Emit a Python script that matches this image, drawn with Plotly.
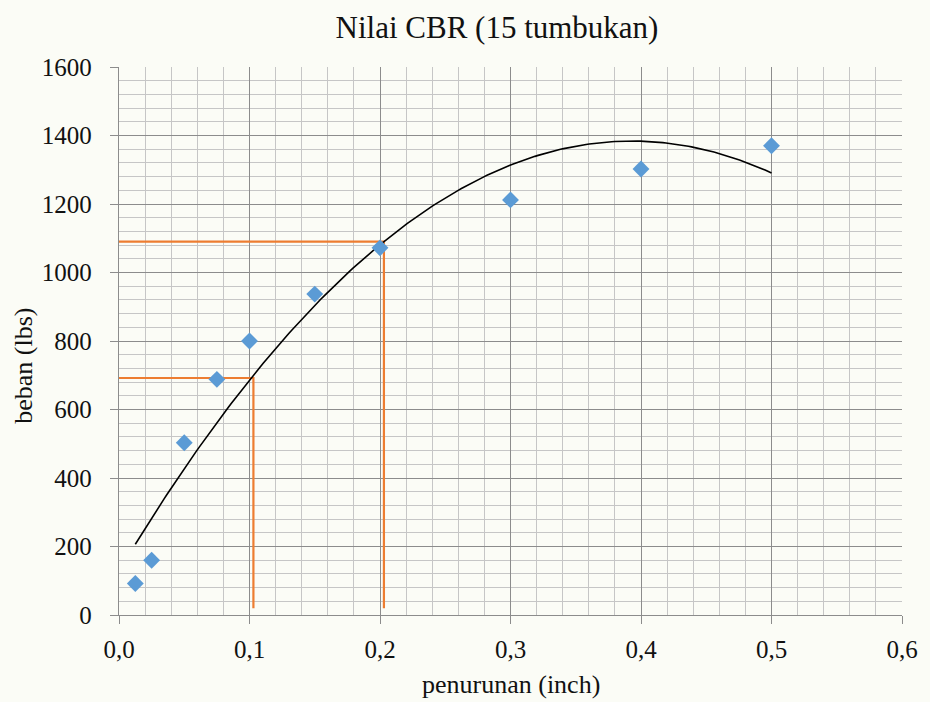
import numpy as np
import plotly.graph_objects as go

# Penetration (inch) and load (lbs) readings
penurunan = [0.0125, 0.025, 0.05, 0.075, 0.1, 0.15, 0.2, 0.3, 0.4, 0.5]
beban = [92, 160, 503, 688, 800, 937, 1072, 1212, 1302, 1370]

# Guide lines at 0.1" and 0.2"
guide_1_x = [0.0, 0.103, 0.103]
guide_1_y = [692, 692, 20]
guide_2_x = [0.0, 0.203, 0.203]
guide_2_y = [1090, 1090, 20]

x_ticks = [0.0, 0.1, 0.2, 0.3, 0.4, 0.5, 0.6]
x_tick_text = ["0,0", "0,1", "0,2", "0,3", "0,4", "0,5", "0,6"]
y_ticks = [0, 200, 400, 600, 800, 1000, 1200, 1400, 1600]
y_tick_text = [str(v) for v in y_ticks]

# Second-order polynomial trend line
coef = np.polyfit(penurunan, beban, 2)
x_fit = np.linspace(min(penurunan), max(penurunan), 200)
y_fit = np.polyval(coef, x_fit)

font_family = "Liberation Serif, Times New Roman, serif"
text_color = "#111111"
bg = "#fbfcf6"
major_grid = "#8c8c8c"
minor_grid = "#c6c6c6"

fig = go.Figure()
fig.add_trace(go.Scatter(x=guide_1_x, y=guide_1_y, mode="lines",
                         line=dict(color="#ed7d31", width=2.2), hoverinfo="skip"))
fig.add_trace(go.Scatter(x=guide_2_x, y=guide_2_y, mode="lines",
                         line=dict(color="#ed7d31", width=2.2), hoverinfo="skip"))
fig.add_trace(go.Scatter(x=x_fit, y=y_fit, mode="lines",
                         line=dict(color="black", width=1.6), hoverinfo="skip"))
fig.add_trace(go.Scatter(x=penurunan, y=beban, mode="markers",
                         marker=dict(symbol="diamond", size=13, color="#5b9bd5"),
                         cliponaxis=False))

fig.update_layout(
    width=930, height=702,
    margin=dict(l=119, r=22, t=67, b=87),
    paper_bgcolor=bg, plot_bgcolor=bg,
    showlegend=False,
    font=dict(family=font_family, size=25, color=text_color),
    title=dict(text="Nilai CBR (15 tumbukan)", x=497 / 930, xref="container",
               y=1 - 27 / 702, yref="container", xanchor="center", yanchor="middle",
               font=dict(size=31, family=font_family, color=text_color)),
)
fig.add_annotation(text="penurunan (inch)", xref="paper", yref="paper",
                   x=0.5, y=-(684 - 615) / 548, xanchor="center", yanchor="middle",
                   showarrow=False, font=dict(size=26, family=font_family, color=text_color))
fig.add_annotation(text="beban (lbs)", xref="paper", yref="paper",
                   x=-(119 - 22) / 789, y=(615 - 366) / 548, xanchor="center", yanchor="middle",
                   textangle=-90,
                   showarrow=False, font=dict(size=26, family=font_family, color=text_color))

axis_common = dict(
    showgrid=True, gridcolor=major_grid, gridwidth=1.3,
    showline=True, linecolor=major_grid, linewidth=1.3,
    ticks="outside", ticklen=8, tickcolor=major_grid, tickwidth=1.3,
    zeroline=False,
    tickfont=dict(size=25, family=font_family, color=text_color),
)
fig.update_xaxes(
    range=[0, 0.6], tickvals=x_ticks, ticktext=x_tick_text,
    minor=dict(dtick=0.02, tick0=0, showgrid=True, gridcolor=minor_grid, gridwidth=1.3),
    ticklabelstandoff=4,
    **axis_common,
)
fig.update_yaxes(
    range=[0, 1600], tickvals=y_ticks, ticktext=y_tick_text,
    minor=dict(dtick=40, tick0=0, showgrid=True, gridcolor=minor_grid, gridwidth=1.3),
    ticklabelstandoff=13,
    **axis_common,
)

fig.write_html("out.html")
